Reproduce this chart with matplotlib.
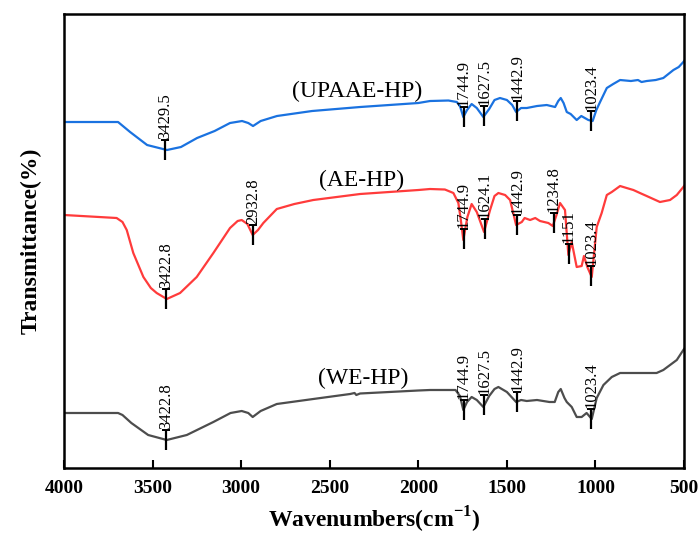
import numpy as np
import matplotlib
matplotlib.use('Agg')
from matplotlib import pyplot as plt

plt.rcParams['font.family'] = ['Liberation Serif', 'DejaVu Serif']

# UPAAE-HP (blue)
wn_up = [4000, 3695, 3627, 3531, 3419, 3340, 3249, 3150, 3063, 2995, 2960, 2933, 2890, 2798,
         2600, 2329, 2000, 1934, 1830, 1783, 1765, 1746, 1725, 1699, 1670, 1633, 1600, 1570,
         1539, 1500, 1470, 1448, 1420, 1388, 1330, 1275, 1228, 1210, 1196, 1180, 1162, 1140,
         1106, 1080, 1060, 1040, 1016, 995, 974, 936, 900, 861, 800, 760, 740, 711, 660, 617,
         560, 530, 504, 500]
t_up = [346, 346, 336, 323, 318, 321, 330, 337, 345, 347, 345, 342, 347, 352,
        357, 361, 365, 367, 367.5, 366, 362, 351, 358, 364, 360, 351, 359, 368,
        370, 368, 363, 356, 360, 360, 362, 363, 361, 367, 370, 365, 356, 354,
        348, 352, 350, 348, 347, 358, 366, 380, 384, 388, 387, 388, 386, 387, 388, 390,
        398, 401, 406, 407]

# AE-HP (red)
wn_ae = [4000, 3703, 3670, 3646, 3609, 3552, 3510, 3477, 3420, 3345, 3251, 3157, 3063, 3020,
         2997, 2965, 2935, 2905, 2875, 2799, 2700, 2593, 2329, 2000, 1934, 1850, 1802, 1774,
         1760, 1746, 1723, 1699, 1670, 1629, 1595, 1570, 1548, 1510, 1482, 1448, 1416, 1400,
         1369, 1340, 1313, 1266, 1241, 1220, 1200, 1172, 1153, 1134, 1106, 1078, 1065, 1046,
         1021, 993, 965, 936, 908, 861, 824, 786, 749, 711, 636, 579, 541, 504, 500]
t_ae = [253, 250, 246, 238, 215, 191, 180, 175, 169, 175, 191, 215, 240, 247,
        248, 244, 233, 238, 245, 259, 264, 268, 274, 278, 279, 278.5, 275, 265,
        248, 228, 251, 264, 256, 236, 258, 272, 275, 273, 268, 243, 246, 250,
        248, 250, 247, 245, 242, 253, 265, 258, 213, 226, 201, 202, 212, 201,
        191, 241, 255, 273, 276, 282, 280, 278, 275, 272, 266, 268, 273, 281, 282]

# WE-HP (grey)
wn_we = [4000, 3695, 3670, 3620, 3525, 3420, 3307, 3157, 3060, 2997, 2960, 2935, 2890, 2799,
         2593, 2385, 2360, 2350, 2329, 2000, 1934, 1790, 1765, 1746, 1725, 1699, 1670, 1633,
         1600, 1570, 1548, 1500, 1448, 1420, 1388, 1330, 1260, 1230, 1210, 1196, 1175, 1162,
         1134, 1106, 1078, 1050, 1021, 993, 955, 908, 861, 800, 749, 711, 655, 617, 579, 541,
         504, 500]
t_we = [55, 55, 53, 45, 33, 28, 33, 46, 55, 57, 55, 51, 57, 64,
        69, 74, 75, 73, 74.5, 77.5, 78, 78, 72, 58, 66, 71, 68, 61,
        72, 79, 81, 76, 66, 68, 67, 68, 66, 66, 76, 79, 70, 66,
        61, 51, 51, 55, 49, 70, 83, 91, 95, 95, 95, 95, 95, 98, 103, 108,
        118, 119]

peaks_up = [3429.5, 1744.9, 1627.5, 1442.9, 1023.4]
peaks_ae = [3422.8, 2932.8, 1744.9, 1624.1, 1442.9, 1234.8, 1151, 1023.4]
peaks_we = [3422.8, 1744.9, 1627.5, 1442.9, 1023.4]

names = ['(UPAAE-HP)', '(AE-HP)', '(WE-HP)']
colors = ['#1a72e0', '#ff3b3b', '#4d4d4d']
xticks = [4000, 3500, 3000, 2500, 2000, 1500, 1000, 500]

fig = plt.figure(figsize=(6.99, 5.37), dpi=100)
ax = fig.add_axes([0.0916, 0.1285, 0.887, 0.8454])

series = [(wn_up, t_up, peaks_up), (wn_ae, t_ae, peaks_ae), (wn_we, t_we, peaks_we)]
name_pos = [(2343, 377), (2318, 288), (2312, 90)]

for (wn, t, peaks), c, nm, pos in zip(series, colors, names, name_pos):
    ax.plot(wn, t, color=c, lw=1.6)
    # peak markers: short bar through the curve with the label on top
    for p in peaks:
        y = np.interp(p, wn[::-1], t[::-1])
        ax.plot([p, p], [y - 10, y + 10], color='k', lw=1.6, solid_capstyle='butt')
        ax.plot([p], [y + 10], marker='_', ms=6, mew=1.4, color='k')
        lab = ('%.1f' % p) if p != int(p) else str(int(p))
        ax.text(p, y + 11, lab, rotation=90, ha='center', va='bottom', fontsize=12)
    ax.text(pos[0], pos[1], nm, ha='center', va='center', fontsize=17)

ax.set_xlim(4000, 500)
ax.set_ylim(0, 454)
ax.set_xticks(xticks)
ax.set_xticklabels([str(v) for v in xticks], fontsize=14, fontweight='bold')
ax.set_yticks([])
ax.tick_params(axis='x', direction='in', length=6, width=1.5, pad=9)
for s in ax.spines.values():
    s.set_linewidth(1.8)

ax.set_xlabel('Wavenumbers(cm$^{\\mathregular{-1}}$)', fontsize=17, fontweight='bold', labelpad=5)
ax.set_ylabel('Transmittance(%)', fontsize=17, fontweight='bold', labelpad=16)

plt.savefig('out.png', dpi=100)
